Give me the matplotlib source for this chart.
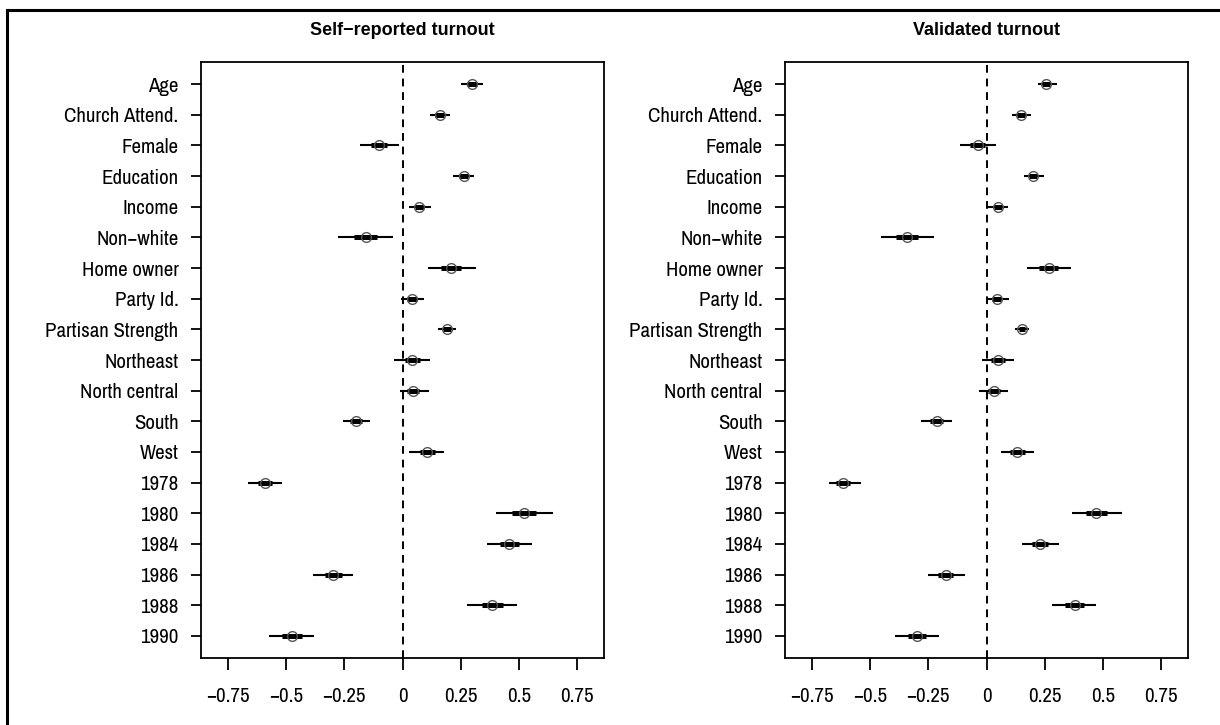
import matplotlib
matplotlib.use("Agg")
import matplotlib.pyplot as plt
from matplotlib.lines import Line2D
import numpy as np

plt.rcParams['font.family'] = ['Archivo Narrow', 'Liberation Sans', 'DejaVu Sans']

variables = ["Age", "Church Attend.", "Female", "Education", "Income", "Non\u2212white",
             "Home owner", "Party Id.", "Partisan Strength", "Northeast", "North central",
             "South", "West", "1978", "1980", "1984", "1986", "1988", "1990"]

# Self-reported turnout: estimate, lower, upper (95%)
self_est = [0.298, 0.159, -0.099, 0.262, 0.072, -0.157, 0.210, 0.042, 0.192, 0.042, 0.046,
            -0.200, 0.106, -0.592, 0.522, 0.458, -0.298, 0.385, -0.474]
self_lo = [0.251, 0.119, -0.181, 0.215, 0.026, -0.275, 0.110, -0.006, 0.153, -0.036, -0.010,
           -0.255, 0.027, -0.664, 0.402, 0.362, -0.385, 0.278, -0.574]
self_hi = [0.345, 0.205, -0.017, 0.309, 0.122, -0.039, 0.316, 0.093, 0.230, 0.120, 0.114,
           -0.139, 0.179, -0.519, 0.644, 0.554, -0.212, 0.491, -0.378]

# Validated turnout
val_est = [0.256, 0.149, -0.037, 0.199, 0.049, -0.341, 0.267, 0.044, 0.152, 0.049, 0.031,
           -0.213, 0.133, -0.616, 0.471, 0.230, -0.175, 0.378, -0.299]
val_lo = [0.222, 0.110, -0.113, 0.159, 0.006, -0.455, 0.173, 0.001, 0.122, -0.020, -0.033,
          -0.282, 0.061, -0.677, 0.368, 0.152, -0.252, 0.283, -0.391]
val_hi = [0.303, 0.192, 0.039, 0.247, 0.094, -0.226, 0.362, 0.096, 0.182, 0.117, 0.091,
          -0.149, 0.206, -0.540, 0.582, 0.310, -0.094, 0.471, -0.205]

titles = ["Self\u2212reported turnout", "Validated turnout"]
xticks = [-0.75, -0.5, -0.25, 0, 0.25, 0.5, 0.75]
xticklabels = ["\u22120.75", "\u22120.5", "\u22120.25", "0", "0.25", "0.5", "0.75"]

W, H = 1220, 725
fig = plt.figure(figsize=(W / 100, H / 100), dpi=100)

# outer frame (left and top edges visible)
fig.add_artist(Line2D([7 / W, 7 / W], [0, 1 - 10 / H], color='black', lw=2.2,
                      transform=fig.transFigure))
fig.add_artist(Line2D([7 / W, 1], [1 - 10 / H, 1 - 10 / H], color='black', lw=2.2,
                      transform=fig.transFigure))

panels = [(self_est, self_lo, self_hi, 201), (val_est, val_lo, val_hi, 785)]
ratio = 0.42  # inner (thick) interval relative to the 95% interval

for (est, lo, hi, left_px), title in zip(panels, titles):
    ax = fig.add_axes([left_px / W, (H - 658) / H, 403 / W, 596 / H])
    n = len(variables)
    y = np.arange(n)
    est = np.array(est); lo = np.array(lo); hi = np.array(hi)
    half = (hi - lo) / 2 * ratio
    ax.axvline(0, color='black', lw=1.4, ls=(0, (4, 3)), zorder=1)
    ax.hlines(y, lo, hi, color='black', lw=1.5, zorder=2)
    ax.hlines(y, est - half, est + half, color='black', lw=3.6, zorder=3)
    ax.plot(est, y, 'o', ms=7, mfc='none', mec='#555555', mew=1.0, zorder=4)
    ax.set_xlim(-0.865, 0.865)
    ax.set_ylim(n - 1 + 0.72, -0.72)
    ax.set_yticks(y)
    ax.set_yticklabels(variables, fontsize=15)
    ax.set_xticks(xticks)
    ax.set_xticklabels(xticklabels, fontsize=15)
    ax.tick_params(axis='x', length=8.6, width=1.3, pad=12, direction='out')
    ax.tick_params(axis='y', length=7.2, width=1.3, pad=9, direction='out')
    for s in ax.spines.values():
        s.set_linewidth(1.3)
    ax.text(0.5, 1 + (62 - 35) / 596, title, transform=ax.transAxes, ha='center',
            va='baseline', fontsize=13, fontweight='bold',
            family=['Liberation Sans', 'DejaVu Sans'])

fig.savefig("out.png", dpi=100)
